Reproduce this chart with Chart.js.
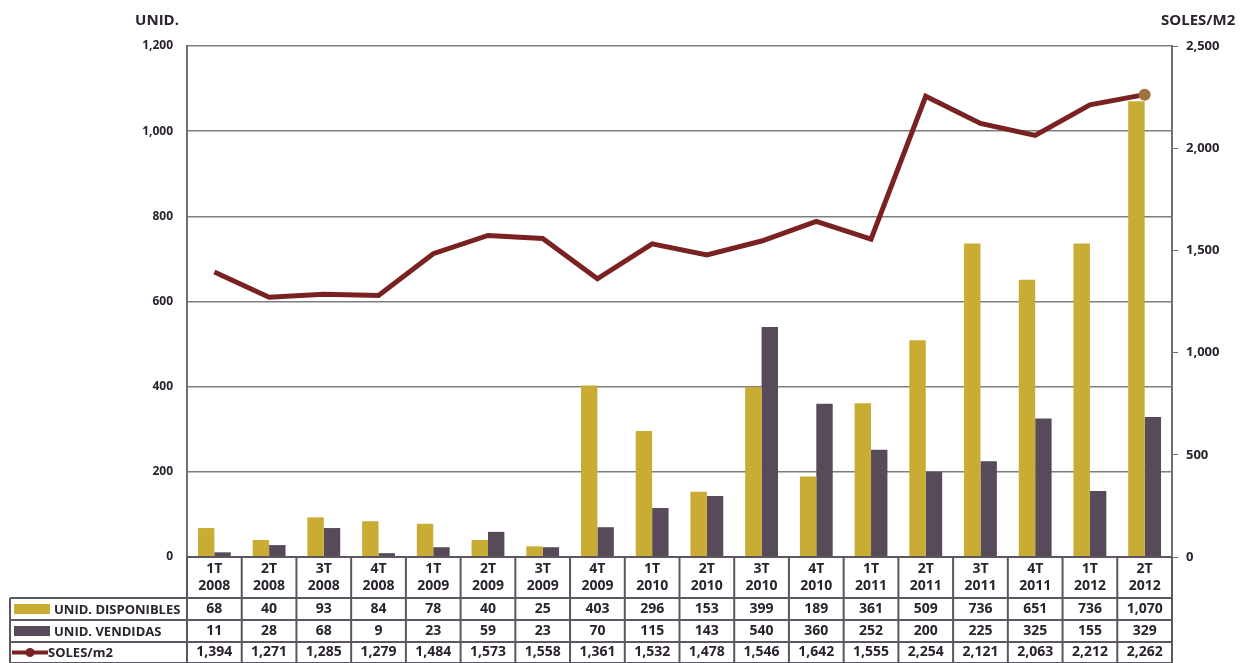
<!DOCTYPE html>
<html>
<head>
<meta charset="utf-8">
<script src="https://cdn.jsdelivr.net/npm/chart.js@4/dist/chart.umd.min.js"></script>
<style>
  html, body { margin: 0; padding: 0; background: #fff; }
  #wrap { position: relative; width: 1260px; height: 663px; }
</style>
</head>
<body>
<div id="wrap"><canvas id="myChart"></canvas></div>
<script>
// quarters shown along the bottom
const quarters = ["1T","2T","3T","4T","1T","2T","3T","4T","1T","2T","3T","4T","1T","2T","3T","4T","1T","2T"];
const years = ["2008","2008","2008","2008","2009","2009","2009","2009","2010","2010","2010","2010","2011","2011","2011","2011","2012","2012"];

const disponibles = [68, 40, 93, 84, 78, 40, 25, 403, 296, 153, 399, 189, 361, 509, 736, 651, 736, 1070];
const vendidas = [11, 28, 68, 9, 23, 59, 23, 70, 115, 143, 540, 360, 252, 200, 225, 325, 155, 329];
const soles = [1394, 1271, 1285, 1279, 1484, 1573, 1558, 1361, 1532, 1478, 1546, 1642, 1555, 2254, 2121, 2063, 2212, 2262];

const unidTicks = [0, 200, 400, 600, 800, 1000, 1200];
const solesTicks = [0, 500, 1000, 1500, 2000, 2500];

const gold = "#C8AC33";
const plum = "#574B5A";
const maroon = "#7A2222";
const ink = "#2B2230";
const tableLine = "#5E5563";
const font = "'Open Sans', 'DejaVu Sans', sans-serif";

const fmt = (n) => n.toLocaleString("en-US");

// data table under the plot, columns follow the category scale
const tablePlugin = {
  id: "dataTable",
  afterDraw(chart) {
    const ctx = chart.ctx;
    const area = chart.chartArea;
    const x = chart.scales.x;
    const colW = (area.right - area.left) / quarters.length;
    const headTop = area.bottom;
    const rowTops = [598, 620, 642, 663];
    const legendLeft = 10;

    ctx.save();
    ctx.strokeStyle = tableLine;
    ctx.lineWidth = 2;

    // horizontal rules
    ctx.beginPath();
    ctx.moveTo(area.left, headTop); ctx.lineTo(area.right, headTop);
    rowTops.forEach((y) => {
      ctx.moveTo(legendLeft, y); ctx.lineTo(area.right, y);
    });
    ctx.stroke();

    // vertical rules
    ctx.beginPath();
    for (let i = 0; i <= quarters.length; i++) {
      const vx = area.left + i * colW;
      ctx.moveTo(vx, headTop); ctx.lineTo(vx, rowTops[3]);
    }
    ctx.moveTo(legendLeft, rowTops[0]); ctx.lineTo(legendLeft, rowTops[3]);
    ctx.stroke();

    // headers and values
    ctx.fillStyle = ink;
    ctx.textAlign = "center";
    ctx.textBaseline = "middle";
    ctx.font = "bold 14px " + font;
    quarters.forEach((q, i) => {
      const cx = x.getPixelForValue(i);
      ctx.fillText(q, cx, headTop + 12);
      ctx.fillText(years[i], cx, headTop + 29);
      ctx.fillText(fmt(disponibles[i]), cx, (rowTops[0] + rowTops[1]) / 2);
      ctx.fillText(fmt(vendidas[i]), cx, (rowTops[1] + rowTops[2]) / 2);
      ctx.fillText(fmt(soles[i]), cx, (rowTops[2] + rowTops[3]) / 2);
    });

    // legend column
    ctx.textAlign = "left";
    ctx.font = "bold 13px " + font;
    const rows = [
      { label: "UNID. DISPONIBLES", draw: (y) => { ctx.fillStyle = gold; ctx.fillRect(14, y - 5, 36, 10); } },
      { label: "UNID. VENDIDAS", draw: (y) => { ctx.fillStyle = plum; ctx.fillRect(14, y - 5, 36, 10); } },
      { label: "SOLES/m2", draw: (y) => {
          ctx.strokeStyle = maroon; ctx.lineWidth = 4;
          ctx.beginPath(); ctx.moveTo(12, y); ctx.lineTo(48, y); ctx.stroke();
          ctx.fillStyle = maroon;
          ctx.beginPath(); ctx.arc(30, y, 4.5, 0, Math.PI * 2); ctx.fill();
        } }
    ];
    rows.forEach((r, i) => {
      const y = (rowTops[i] + rowTops[i + 1]) / 2;
      r.draw(y);
      ctx.fillStyle = ink;
      ctx.fillText(r.label, r.label === "SOLES/m2" ? 48 : 54, y + 1);
    });

    // axis captions
    ctx.font = "bold 15px " + font;
    ctx.textAlign = "right";
    ctx.fillText("UNID.", 179, 21);
    ctx.textAlign = "left";
    ctx.fillText("SOLES/M2", 1161, 21);
    ctx.restore();
  }
};

const ctx = document.getElementById("myChart").getContext("2d");
const chart = new Chart(ctx, {
  type: "bar",
  data: {
    labels: quarters.map((q, i) => q + " " + years[i]),
    datasets: [
      {
        label: "SOLES/m2",
        type: "line",
        data: soles,
        yAxisID: "y1",
        borderColor: maroon,
        backgroundColor: maroon,
        borderWidth: 5,
        tension: 0,
        pointRadius: soles.map((v, i) => (i === soles.length - 1 ? 6 : 0)),
        pointBackgroundColor: "#A0703E",
        pointBorderWidth: 0,
        order: 0
      },
      {
        label: "UNID. DISPONIBLES",
        data: disponibles,
        yAxisID: "y",
        backgroundColor: gold,
        categoryPercentage: 0.6,
        barPercentage: 1.0,
        order: 1
      },
      {
        label: "UNID. VENDIDAS",
        data: vendidas,
        yAxisID: "y",
        backgroundColor: plum,
        categoryPercentage: 0.6,
        barPercentage: 1.0,
        order: 1
      }
    ]
  },
  options: {
    responsive: true,
    maintainAspectRatio: false,
    animation: false,
    layout: { padding: { top: 46, bottom: 106, left: 0, right: 0 } },
    plugins: {
      legend: { display: false },
      tooltip: { enabled: false }
    },
    scales: {
      x: { display: false, offset: true },
      y: {
        position: "left",
        min: 0,
        max: 1200,
        afterBuildTicks: (s) => { s.ticks = unidTicks.map((v) => ({ value: v })); },
        afterFit: (s) => { s.width = 187; },
        grid: { color: "#7E7E7E", lineWidth: 1.5, drawTicks: false },
        border: { color: "#707070", width: 2 },
        ticks: {
          padding: 14,
          color: ink,
          font: { family: font, size: 12, weight: "bold" },
          callback: (v) => fmt(v)
        }
      },
      y1: {
        position: "right",
        min: 0,
        max: 2500,
        afterBuildTicks: (s) => { s.ticks = solesTicks.map((v) => ({ value: v })); },
        afterFit: (s) => { s.width = 88; },
        grid: { drawOnChartArea: false, color: "#707070", tickLength: 6 },
        border: { color: "#707070", width: 2 },
        ticks: {
          padding: 8,
          color: ink,
          font: { family: font, size: 13, weight: "bold" },
          callback: (v) => fmt(v)
        }
      }
    }
  },
  plugins: [tablePlugin]
});
</script>
</body>
</html>
